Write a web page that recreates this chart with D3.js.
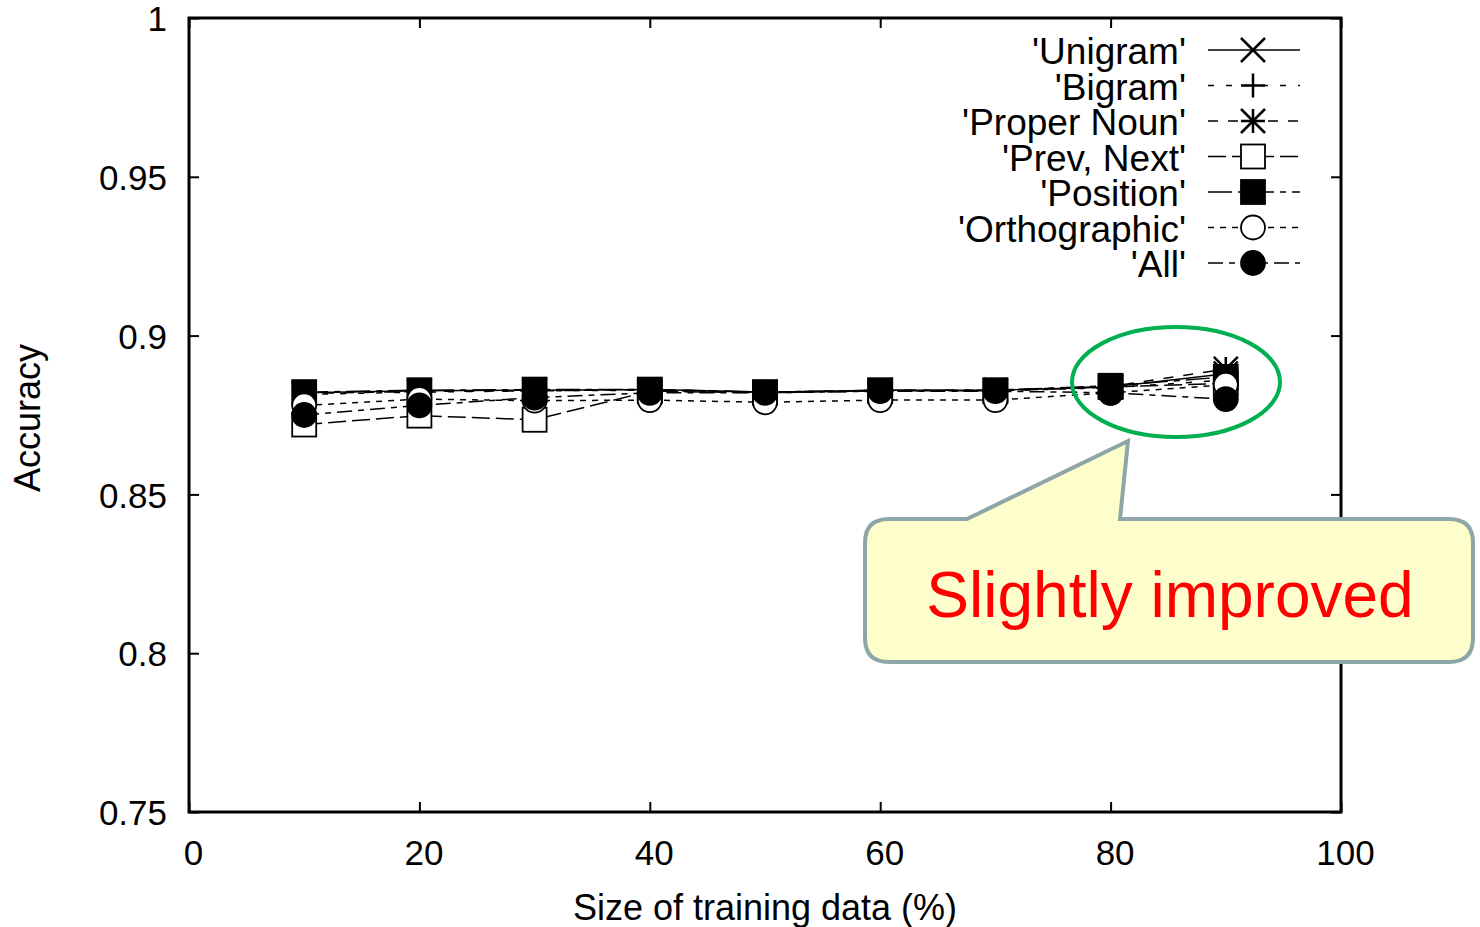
<!DOCTYPE html>
<html>
<head>
<meta charset="utf-8">
<script src="https://cdn.jsdelivr.net/npm/d3@7"></script>
<style>
  html, body { margin: 0; padding: 0; background: #fff; }
  svg { display: block; font-family: "Liberation Sans", Arial, sans-serif; }
</style>
</head>
<body>
<svg id="chart" width="1480" height="927"></svg>
<script>
// data
const trainSize = [10, 20, 30, 40, 50, 60, 70, 80, 90];
const seriesNames = ["'Unigram'", "'Bigram'", "'Proper Noun'", "'Prev, Next'", "'Position'", "'Orthographic'", "'All'"];
const unigram     = [0.8820, 0.8826, 0.8828, 0.8830, 0.8822, 0.8828, 0.8828, 0.8838, 0.8880];
const bigram      = [0.8815, 0.8822, 0.8826, 0.8828, 0.8820, 0.8826, 0.8826, 0.8836, 0.8860];
const properNoun  = [0.8818, 0.8824, 0.8826, 0.8830, 0.8822, 0.8828, 0.8828, 0.8840, 0.8895];
const prevNext    = [0.8720, 0.8748, 0.8735, 0.8825, 0.8820, 0.8826, 0.8826, 0.8838, 0.8850];
const position    = [0.8822, 0.8828, 0.8830, 0.8830, 0.8822, 0.8828, 0.8828, 0.8842, 0.8870];
const orthographic= [0.8780, 0.8800, 0.8795, 0.8797, 0.8790, 0.8797, 0.8797, 0.8820, 0.8845];
const allFeat     = [0.8750, 0.8780, 0.8805, 0.8820, 0.8820, 0.8825, 0.8825, 0.8820, 0.8800];
const xTicks = [0, 20, 40, 60, 80, 100];
const yTicks = [0.75, 0.8, 0.85, 0.9, 0.95, 1];
const calloutText = "Slightly improved";

const svg = d3.select("#chart");
const M = { left: 189, right: 1341, top: 18, bottom: 812 };

const x = d3.scaleLinear().domain([0, 100]).range([M.left, M.right]);
const y = d3.scaleLinear().domain([0.75, 1]).range([M.bottom, M.top]);

const series = [
  { name: seriesNames[0], values: unigram,      dash: null,          sym: "cross" },
  { name: seriesNames[1], values: bigram,       dash: "6,12",        sym: "plus" },
  { name: seriesNames[2], values: properNoun,   dash: "10,10",       sym: "star" },
  { name: seriesNames[3], values: prevNext,     dash: "18,6",        sym: "openSquare" },
  { name: seriesNames[4], values: position,     dash: "24,6,6,6",    sym: "square" },
  { name: seriesNames[5], values: orthographic, dash: "6,6",         sym: "openCircle" },
  { name: seriesNames[6], values: allFeat,      dash: "15,6,6,6",    sym: "circle" }
];

function drawSymbol(g, type, cx, cy) {
  const s = 12;
  if (type === "cross") {
    g.append("path").attr("d", `M${cx-s},${cy-s}L${cx+s},${cy+s}M${cx-s},${cy+s}L${cx+s},${cy-s}`)
      .attr("stroke", "#000").attr("stroke-width", 2.5).attr("fill", "none");
  } else if (type === "plus") {
    g.append("path").attr("d", `M${cx-s},${cy}L${cx+s},${cy}M${cx},${cy-s}L${cx},${cy+s}`)
      .attr("stroke", "#000").attr("stroke-width", 2.5).attr("fill", "none");
  } else if (type === "star") {
    g.append("path").attr("d", `M${cx-s},${cy}L${cx+s},${cy}M${cx},${cy-s}L${cx},${cy+s}M${cx-s},${cy-s}L${cx+s},${cy+s}M${cx-s},${cy+s}L${cx+s},${cy-s}`)
      .attr("stroke", "#000").attr("stroke-width", 2.5).attr("fill", "none");
  } else if (type === "openSquare" || type === "square") {
    g.append("rect").attr("x", cx - s).attr("y", cy - s).attr("width", 2 * s).attr("height", 2 * s)
      .attr("fill", type === "square" ? "#000" : "#fff").attr("stroke", "#000").attr("stroke-width", 1.8);
  } else {
    g.append("circle").attr("cx", cx).attr("cy", cy).attr("r", s)
      .attr("fill", type === "circle" ? "#000" : "#fff").attr("stroke", "#000").attr("stroke-width", 1.8);
  }
}

// axes: ticks pointing inward on all four sides
const fmt = d => String(+d.toFixed(2));
const axisB = svg.append("g").attr("transform", `translate(0,${M.bottom})`)
  .call(d3.axisBottom(x).tickValues(xTicks).tickSizeInner(-10).tickSizeOuter(0).tickPadding(28).tickFormat(fmt));
const axisT = svg.append("g").attr("transform", `translate(0,${M.top})`)
  .call(d3.axisTop(x).tickValues(xTicks).tickSizeInner(-10).tickSizeOuter(0).tickFormat(""));
const axisL = svg.append("g").attr("transform", `translate(${M.left},0)`)
  .call(d3.axisLeft(y).tickValues(yTicks).tickSizeInner(-10).tickSizeOuter(0).tickPadding(22).tickFormat(fmt));
const axisR = svg.append("g").attr("transform", `translate(${M.right},0)`)
  .call(d3.axisRight(y).tickValues(yTicks).tickSizeInner(-10).tickSizeOuter(0).tickFormat(""));

[axisB, axisT, axisL, axisR].forEach(a => {
  a.select(".domain").remove();
  a.selectAll(".tick line").attr("stroke", "#000").attr("stroke-width", 2);
  a.selectAll("text").attr("font-size", 35).attr("fill", "#000")
    .attr("font-family", "'Liberation Sans', Arial, sans-serif");
});
axisB.selectAll(".tick text").attr("dx", 4);
axisL.selectAll(".tick text").attr("dy", "0.36em");

svg.append("rect")
  .attr("x", M.left).attr("y", M.top)
  .attr("width", M.right - M.left).attr("height", M.bottom - M.top)
  .attr("fill", "none").attr("stroke", "#000").attr("stroke-width", 3);

// axis titles
svg.append("text")
  .attr("transform", `translate(40,418) rotate(-90)`)
  .attr("text-anchor", "middle").attr("font-size", 36).text("Accuracy");
svg.append("text")
  .attr("x", 765).attr("y", 920)
  .attr("text-anchor", "middle").attr("font-size", 36).text("Size of training data (%)");

// data lines + points, series by series
const line = d3.line().x((d, i) => x(trainSize[i])).y(d => y(d));
const plot = svg.append("g");
series.forEach(s => {
  const g = plot.append("g");
  g.append("path").attr("d", line(s.values))
    .attr("fill", "none").attr("stroke", "#000").attr("stroke-width", 1.5)
    .attr("stroke-dasharray", s.dash);
  s.values.forEach((v, i) => drawSymbol(g, s.sym, x(trainSize[i]), y(v)));
});

// legend
const legend = svg.append("g");
series.forEach((s, i) => {
  const ly = 50 + i * 35.5;
  legend.append("text")
    .attr("x", 1186).attr("y", ly).attr("dy", "0.38em")
    .attr("text-anchor", "end").attr("font-size", 37).text(s.name);
  legend.append("line")
    .attr("x1", 1208).attr("x2", 1300).attr("y1", ly).attr("y2", ly)
    .attr("stroke", "#000").attr("stroke-width", 1.5).attr("stroke-dasharray", s.dash);
  drawSymbol(legend, s.sym, 1253, ly);
});

// annotation: ellipse + callout
svg.append("ellipse")
  .attr("cx", 1176).attr("cy", 382).attr("rx", 104).attr("ry", 55)
  .attr("fill", "none").attr("stroke", "#00b050").attr("stroke-width", 4);

const bx0 = 865, bx1 = 1473, by0 = 519, by1 = 662, r = 24;
const calloutPath = [
  `M${bx0 + r},${by0}`,
  `L967,${by0}`, `L1128,441`, `L1120,${by0}`,
  `L${bx1 - r},${by0}`, `Q${bx1},${by0} ${bx1},${by0 + r}`,
  `L${bx1},${by1 - r}`, `Q${bx1},${by1} ${bx1 - r},${by1}`,
  `L${bx0 + r},${by1}`, `Q${bx0},${by1} ${bx0},${by1 - r}`,
  `L${bx0},${by0 + r}`, `Q${bx0},${by0} ${bx0 + r},${by0}`, "Z"
].join("");
svg.append("path").attr("d", calloutPath)
  .attr("fill", "#fefecc").attr("stroke", "#8ea6a8").attr("stroke-width", 4)
  .attr("stroke-linejoin", "miter");
svg.append("text")
  .attr("x", 1170).attr("y", 617)
  .attr("text-anchor", "middle").attr("font-size", 64).attr("fill", "#ff0000")
  .text(calloutText);
</script>
</body>
</html>
